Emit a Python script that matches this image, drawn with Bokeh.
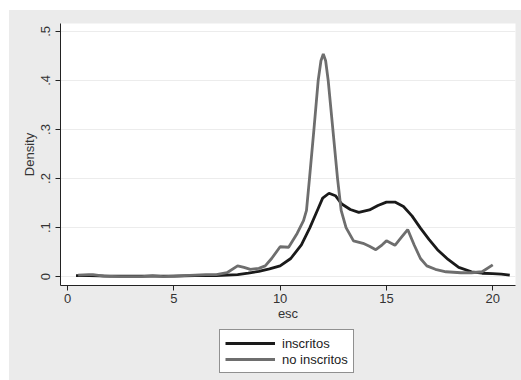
from bokeh.plotting import figure
from bokeh.models import Legend, LegendItem, FixedTicker, Range1d, Spacer
from bokeh.layouts import row, column
from bokeh.embed import file_html
from bokeh.resources import INLINE

# inscritos (kernel density)
x_ins = [0.4, 1.0, 2.0, 3.0, 4.0, 5.0, 6.0, 7.0, 7.5, 8.0, 8.5, 9.0, 9.5, 10.0,
         10.5, 11.0, 11.4, 11.8, 12.0, 12.3, 12.6, 12.9, 13.3, 13.7, 14.2, 14.6,
         15.0, 15.4, 15.8, 16.2, 16.6, 17.0, 17.4, 17.9, 18.4, 19.0, 19.5, 20.0,
         20.4, 20.8]
y_ins = [0.002, 0.002, 0.001, 0.001, 0.001, 0.001, 0.002, 0.002, 0.003, 0.004,
         0.007, 0.011, 0.016, 0.022, 0.037, 0.065, 0.100, 0.140, 0.160, 0.170,
         0.165, 0.148, 0.137, 0.131, 0.136, 0.145, 0.152, 0.152, 0.143, 0.124,
         0.099, 0.076, 0.055, 0.035, 0.019, 0.010, 0.007, 0.006, 0.005, 0.003]

# no inscritos (kernel density)
x_no = [0.5, 1.0, 1.2, 1.7, 2.5, 3.5, 4.0, 4.5, 5.5, 6.0, 6.5, 7.0, 7.5, 8.0,
        8.3, 8.6, 9.0, 9.3, 9.6, 10.0, 10.4, 10.8, 11.1, 11.24, 11.38, 11.59,
        11.79, 11.92, 12.03, 12.14, 12.26, 12.48, 12.7, 12.87, 13.1, 13.45, 13.9,
        14.2, 14.5, 14.8, 15.0, 15.4, 15.7, 16.0, 16.3, 16.6, 16.9, 17.3, 17.8,
        18.5, 19.0, 19.5, 20.0]
y_no = [0.003, 0.004, 0.004, 0.001, 0.0, 0.0, 0.002, 0.0, 0.002, 0.003, 0.004,
        0.004, 0.008, 0.022, 0.019, 0.015, 0.017, 0.022, 0.037, 0.061, 0.060,
        0.088, 0.114, 0.135, 0.200, 0.300, 0.400, 0.440, 0.454, 0.440, 0.400,
        0.300, 0.200, 0.135, 0.100, 0.073, 0.068, 0.062, 0.055, 0.065, 0.073,
        0.064, 0.080, 0.096, 0.065, 0.037, 0.022, 0.015, 0.010, 0.008, 0.008,
        0.010, 0.024]

series_labels = ["inscritos", "no inscritos"]
x_ticks = [0, 5, 10, 15, 20]
y_ticks = [0, 0.1, 0.2, 0.3, 0.4, 0.5]
y_tick_labels = ["0", ".1", ".2", ".3", ".4", ".5"]

BG = "#ebebeb"
FONT = "Liberation Sans"
C_INS = "#1a1a1a"
C_NO = "#6e6e6e"

# ---- main plot ----
p = figure(width=512, height=315, output_backend="svg", toolbar_location=None,
           x_range=Range1d(-0.33, 21.07), y_range=Range1d(-0.018, 0.516),
           min_border_left=51, min_border_top=13, min_border_right=6,
           min_border_bottom=40)
p.border_fill_color = BG
p.border_fill_alpha = 0
p.background_fill_color = "white"
p.outline_line_color = None

p.line(x_ins, y_ins, line_color=C_INS, line_width=2.8)
p.line(x_no, y_no, line_color=C_NO, line_width=2.8)

p.xgrid.visible = False
p.ygrid.ticker = FixedTicker(ticks=y_ticks)
p.ygrid.grid_line_color = "#ececec"
p.ygrid.grid_line_width = 1

for ax in (p.xaxis[0], p.yaxis[0]):
    ax.axis_line_color = "#222222"
    ax.major_tick_line_color = "#222222"
    ax.major_tick_out = 5
    ax.major_tick_in = 0
    ax.minor_tick_line_color = None
    ax.major_label_text_font = FONT
    ax.major_label_text_font_size = "13px"
    ax.major_label_text_color = "#333333"
    ax.axis_label_text_font = FONT
    ax.axis_label_text_font_size = "13px"
    ax.axis_label_text_font_style = "normal"
    ax.axis_label_text_color = "#333333"

p.xaxis.ticker = FixedTicker(ticks=x_ticks)
p.xaxis.axis_label = "esc"
p.xaxis.major_label_standoff = 3
p.xaxis.axis_label_standoff = 0

p.yaxis.ticker = FixedTicker(ticks=y_ticks)
p.yaxis.major_label_overrides = {t: l for t, l in zip(y_ticks, y_tick_labels)}
p.yaxis.major_label_orientation = "parallel"
p.yaxis.axis_label = "Density"
p.yaxis.major_label_standoff = 5
p.yaxis.axis_label_standoff = 2

# ---- legend strip below ----
q = figure(width=512, height=55, output_backend="svg", toolbar_location=None,
           x_range=Range1d(0, 1), y_range=Range1d(0, 1),
           x_axis_location=None, y_axis_location=None,
           min_border_left=51, min_border_right=6, min_border_top=0,
           min_border_bottom=0)
q.border_fill_alpha = 0
q.background_fill_alpha = 0
q.outline_line_color = None
q.grid.visible = False
# hidden proxies (outside the visible range) that give the legend its swatches
l1 = q.line([-5, -4], [-5, -4], line_color=C_INS, line_width=2.8)
l2 = q.line([-5, -4], [-5, -4], line_color=C_NO, line_width=2.8)

legend = Legend(items=[LegendItem(label=series_labels[0], renderers=[l1]),
                       LegendItem(label=series_labels[1], renderers=[l2])],
                location=(159, 7), orientation="vertical")
legend.label_text_font = FONT
legend.label_text_font_size = "13px"
legend.label_text_color = "#222222"
legend.glyph_width = 50
legend.glyph_height = 16
legend.label_height = 16
legend.label_standoff = 7
legend.padding = 5
legend.spacing = 0
legend.margin = 0
legend.border_line_color = "#222222"
legend.border_line_width = 1
legend.background_fill_color = "white"
legend.background_fill_alpha = 1
q.add_layout(legend)

inner = column(p, q, styles={"background-color": BG})
layout = row(Spacer(width=9), column(Spacer(height=10), inner))

open("out.html", "w").write(file_html(layout, INLINE))
